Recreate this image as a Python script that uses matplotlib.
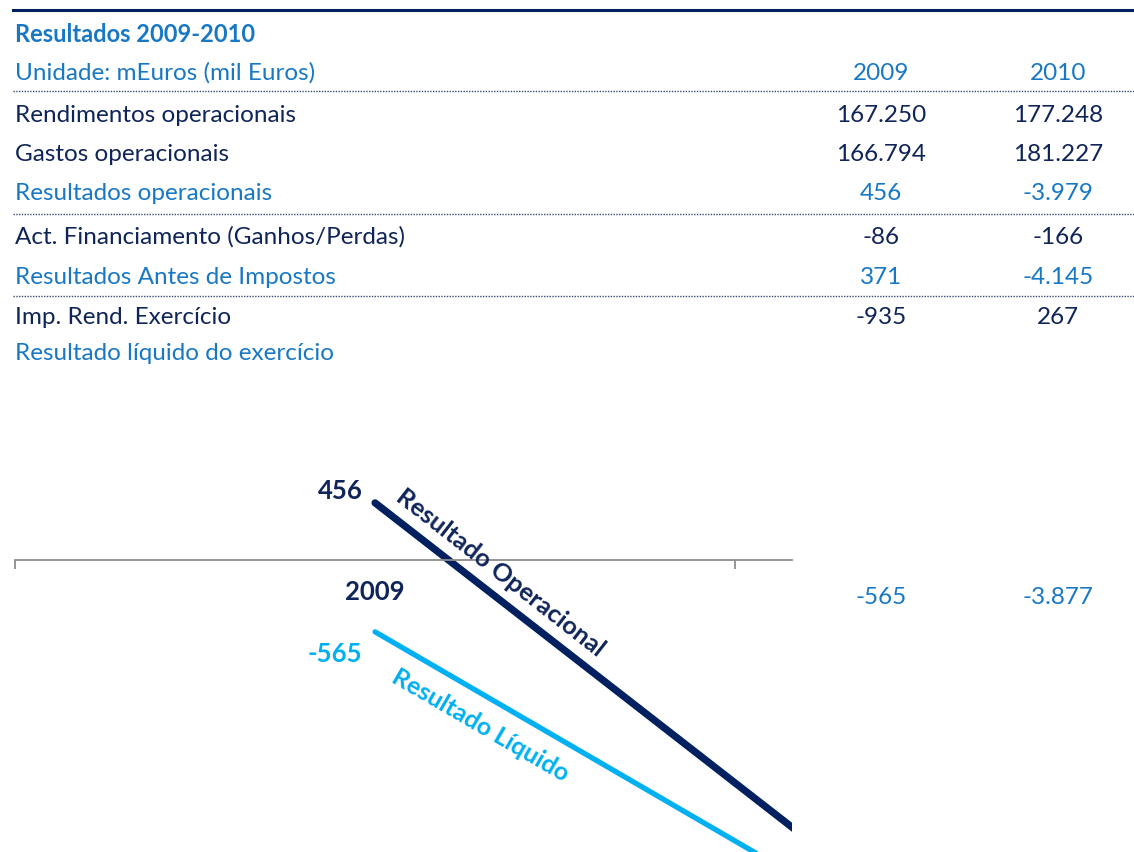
import math
import matplotlib
matplotlib.use("Agg")
import matplotlib.pyplot as plt
from matplotlib.lines import Line2D

plt.rcParams['font.family'] = ['Lato', 'DejaVu Sans']

NAVY = '#0f2458'
BLUE = '#1878c4'
LINE_DARK = '#002060'
LINE_LIGHT = '#00b0f0'

# table data
title = 'Resultados 2009-2010'
unit_label = 'Unidade: mEuros (mil Euros)'
years = ['2009', '2010']
row_labels = ['Rendimentos operacionais', 'Gastos operacionais', 'Resultados operacionais',
              'Act. Financiamento (Ganhos/Perdas)', 'Resultados Antes de Impostos',
              'Imp. Rend. Exercício', 'Resultado líquido do exercício']
values_2009 = ['167.250', '166.794', '456', '-86', '371', '-935', '-565']
values_2010 = ['177.248', '181.227', '-3.979', '-166', '-4.145', '267', '-3.877']
row_is_total = [False, False, True, False, True, False, True]

# chart data
categories = ['2009', '2010']
resultado_operacional = [456, -3979]
resultado_liquido = [-565, -3877]

W, H = 1134, 853
fig = plt.figure(figsize=(W / 100, H / 100), dpi=100)


def fx(px):
    return px / W


def fy(py):
    return 1 - py / H


def hline(y, style, color, lw):
    fig.add_artist(Line2D([fx(13), fx(1134)], [fy(y), fy(y)], transform=fig.transFigure,
                          color=color, lw=lw, linestyle=style))


FS = 17.5
hline(11, '-', LINE_DARK, 2.2)
fig.text(fx(15), fy(34), title, color=BLUE, fontsize=FS - 0.5, fontweight='bold', va='center')
fig.text(fx(15), fy(73), unit_label, color=BLUE, fontsize=FS, va='center')
fig.text(fx(881), fy(73), years[0], color=BLUE, fontsize=FS, va='center', ha='center')
fig.text(fx(1058), fy(73), years[1], color=BLUE, fontsize=FS, va='center', ha='center')
hline(92, (0, (1, 1)), '#3a4a78', 1.0)

row_y = [115, 155, 194, 237, 277, 318, 354]
for lab, v9, v10, tot, y in zip(row_labels, values_2009, values_2010, row_is_total, row_y):
    c = BLUE if tot else NAVY
    fig.text(fx(15), fy(y), lab, color=c, fontsize=FS, va='center')
    if lab.startswith('Resultado líquido'):
        continue
    fig.text(fx(881), fy(y), v9, color=c, fontsize=FS, va='center', ha='center')
    fig.text(fx(1058), fy(y), v10, color=c, fontsize=FS, va='center', ha='center')

hline(215, (0, (1, 1)), '#3a4a78', 1.0)
hline(297, (0, (1, 1)), '#3a4a78', 1.0)

# net result values sit beside the chart
fig.text(fx(881), fy(598), values_2009[-1], color=BLUE, fontsize=FS, va='center', ha='center')
fig.text(fx(1058), fy(598), values_2010[-1], color=BLUE, fontsize=FS, va='center', ha='center')

# line chart
ax = fig.add_axes([fx(15), 0, fx(792) - fx(15), (853 - 470) / H])
x = list(range(len(categories)))
ax.plot(x, resultado_operacional, color=LINE_DARK, lw=5.2, solid_capstyle='round')
ax.plot(x, resultado_liquido, color=LINE_LIGHT, lw=3.8, solid_capstyle='round')
ax.set_xlim(-0.5, 0.579)
ax.set_ylim(-2308, 724)

for s in ['top', 'right', 'left']:
    ax.spines[s].set_visible(False)
ax.spines['bottom'].set_position(('data', 0))
ax.spines['bottom'].set_color('#8c8c8c')
ax.spines['bottom'].set_linewidth(1.3)
ax.set_yticks([])
ax.set_xticks([0], labels=[categories[0]])
ax.set_xticks([-0.5, 0.5], minor=True)
ax.tick_params(axis='x', which='major', length=0, pad=13, labelsize=18.5,
               labelcolor=NAVY)
for t in ax.get_xticklabels():
    t.set_fontweight('bold')
ax.tick_params(axis='x', which='minor', length=6.5, width=1.3, color='#8c8c8c')

ax.annotate(f'{resultado_operacional[0]}', (0, resultado_operacional[0]),
            xytext=(-9, 9), textcoords='offset points', ha='right', va='center',
            color=NAVY, fontsize=18.5, fontweight='bold')
ax.annotate(f'{resultado_liquido[0]}', (0, resultado_liquido[0]),
            xytext=(-9, -15), textcoords='offset points', ha='right', va='center',
            color=LINE_LIGHT, fontsize=18.5, fontweight='bold')


def angle_of(series):
    p0 = ax.transData.transform((0, series[0]))
    p1 = ax.transData.transform((1, series[1]))
    return math.degrees(math.atan2(p1[1] - p0[1], p1[0] - p0[0]))


def point_on(series, t):
    return (t, series[0] + t * (series[1] - series[0]))


ax.annotate('Resultado Operacional', point_on(resultado_operacional, 0.155),
            xytext=(10, 13), textcoords='offset points', ha='center', va='center',
            rotation=angle_of(resultado_operacional), rotation_mode='anchor',
            color=NAVY, fontsize=18.3, fontweight='bold', annotation_clip=False)
ax.annotate('Resultado Líquido', point_on(resultado_liquido, 0.164),
            xytext=(-9, -17), textcoords='offset points', ha='center', va='center',
            rotation=angle_of(resultado_liquido), rotation_mode='anchor',
            color=LINE_LIGHT, fontsize=18, fontweight='bold', annotation_clip=False)

fig.savefig('out.png', dpi=100)
